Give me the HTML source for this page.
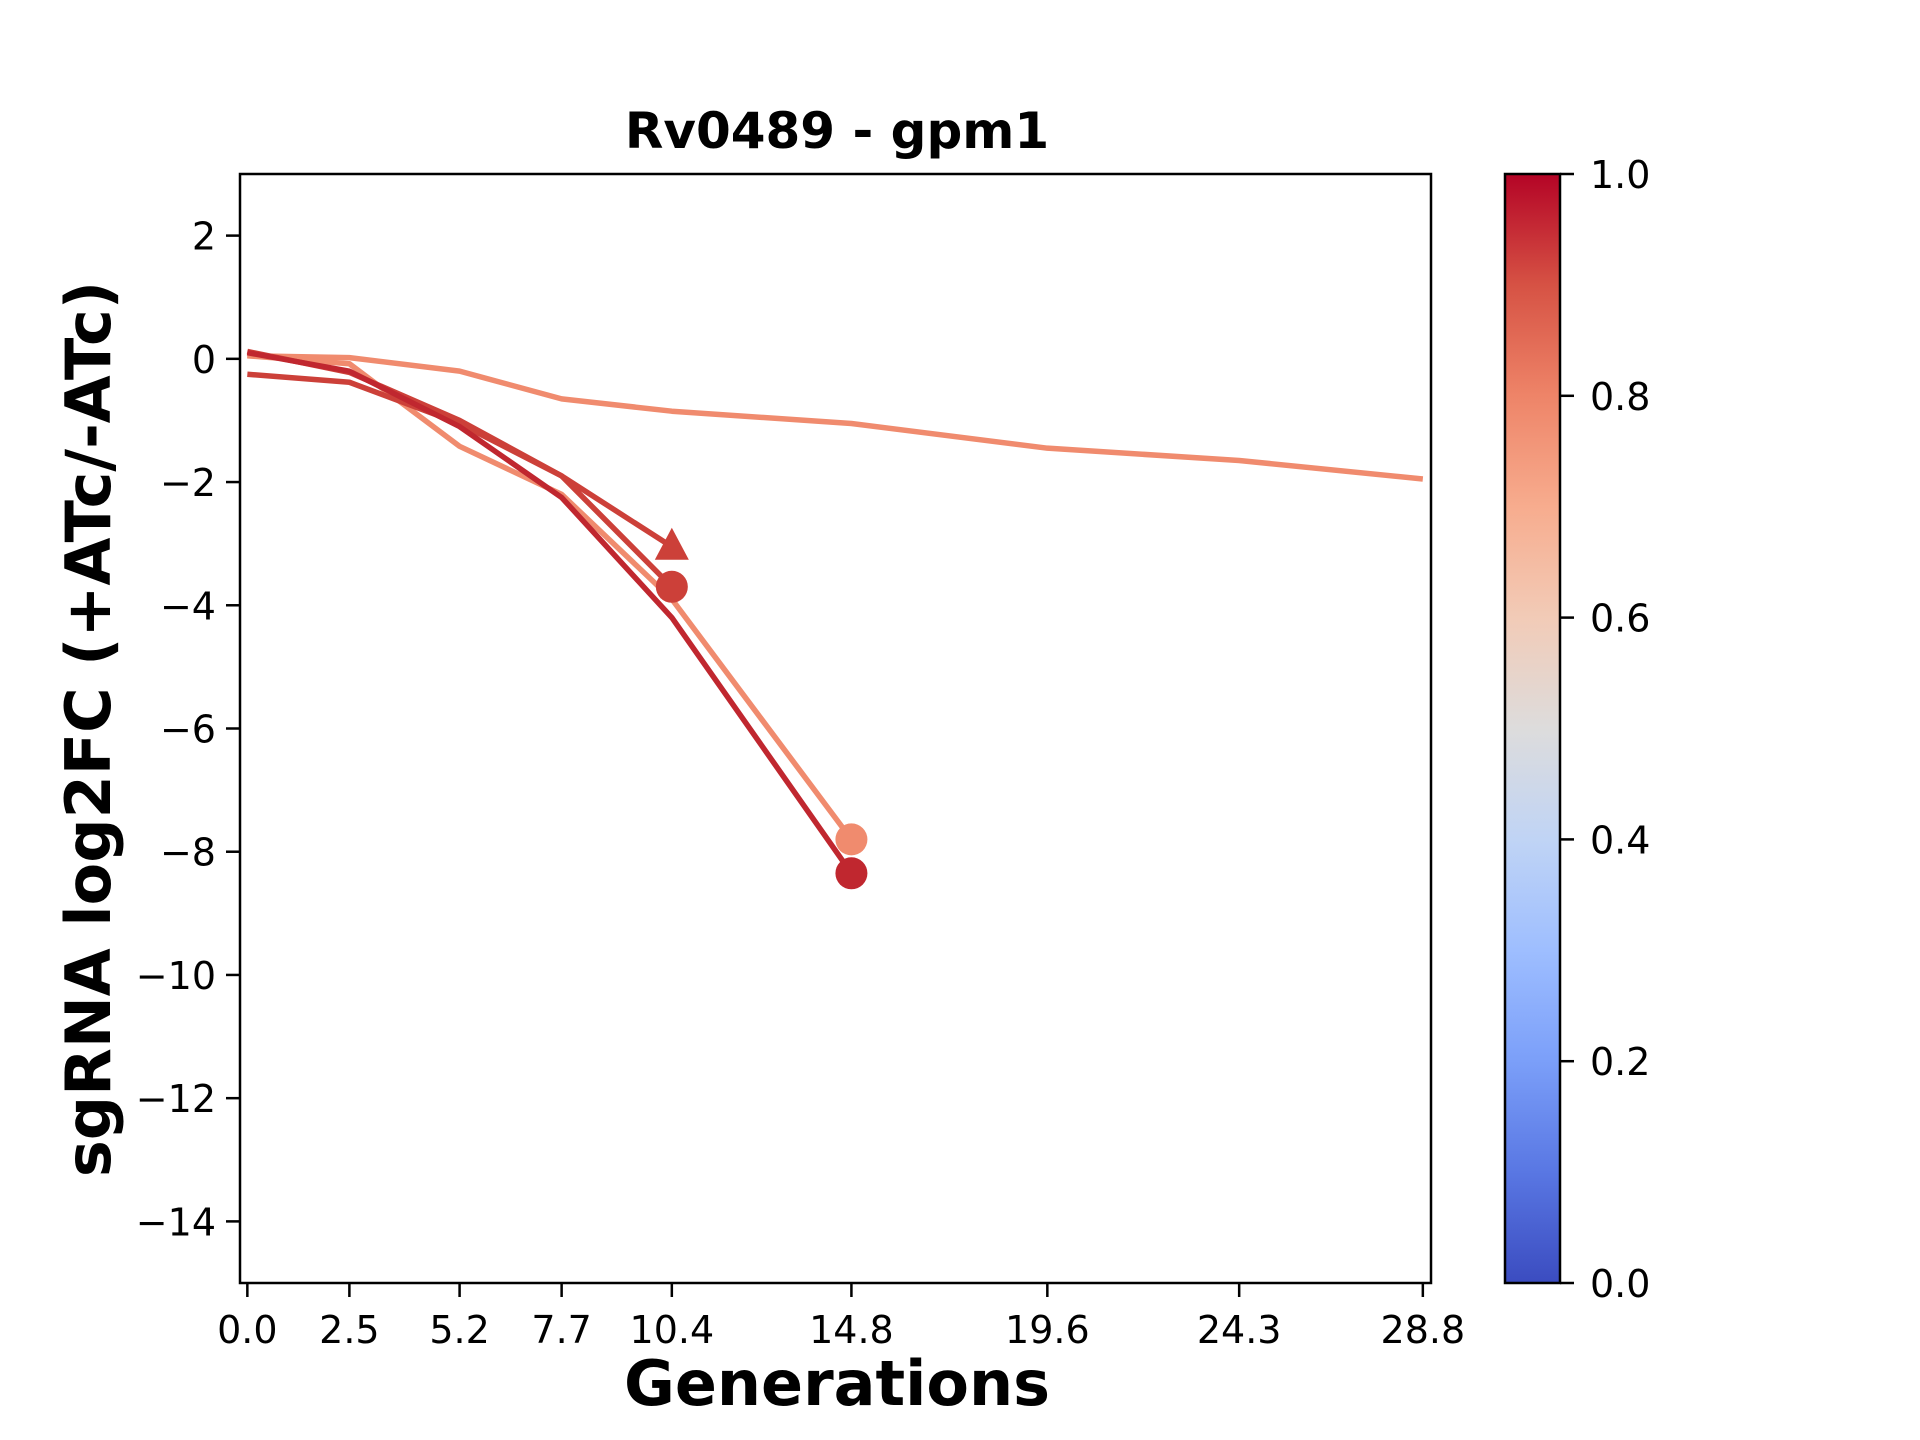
<!DOCTYPE html>
<html><head><meta charset="utf-8"><style>
html,body{margin:0;padding:0;background:#fff;}
svg{display:block;font-family:"DejaVu Sans","Liberation Sans",sans-serif;}
</style></head><body>
<svg id="chart" width="1920" height="1440" viewBox="0 0 1920 1440" xmlns="http://www.w3.org/2000/svg">
<defs>
<linearGradient id="cw" x1="0" y1="1" x2="0" y2="0">
<stop offset="0" stop-color="#3b4cc0"/><stop offset="0.1" stop-color="#5977e3"/><stop offset="0.2" stop-color="#7b9ff9"/><stop offset="0.3" stop-color="#9ebeff"/><stop offset="0.4" stop-color="#c0d4f5"/><stop offset="0.5" stop-color="#dddcdc"/><stop offset="0.6" stop-color="#f2cbb7"/><stop offset="0.7" stop-color="#f7ac8e"/><stop offset="0.8" stop-color="#ee8468"/><stop offset="0.9" stop-color="#d65244"/><stop offset="1" stop-color="#b40426"/>
</linearGradient>
</defs>
<rect x="0" y="0" width="1920" height="1440" fill="#fff"/>
<text x="837" y="148" text-anchor="middle" font-size="50" font-weight="bold">Rv0489 - gpm1</text>
<g id="plot"></g>
<rect x="240" y="174" width="1191" height="1109" fill="none" stroke="#000" stroke-width="2.5"/>
<text x="837" y="1405" text-anchor="middle" font-size="62" font-weight="bold">Generations</text>
<text transform="translate(110,729) rotate(-90)" text-anchor="middle" font-size="62" font-weight="bold">sgRNA log2FC (+ATc/-ATc)</text>
<rect x="1505" y="174" width="55" height="1109" fill="url(#cw)" stroke="#000" stroke-width="2.5"/>
<g id="cbticks"></g>
</svg>
<script>
const xTicks = [0.0, 2.5, 5.2, 7.7, 10.4, 14.8, 19.6, 24.3, 28.8];
const xTickLabels = ["0.0","2.5","5.2","7.7","10.4","14.8","19.6","24.3","28.8"];
const yTicks = [2, 0, -2, -4, -6, -8, -10, -12, -14];
const cbTicks = [0.0, 0.2, 0.4, 0.6, 0.8, 1.0];
const genLong = [0, 2.5, 5.2, 7.7, 10.4, 14.8, 19.6, 24.3, 28.8];
const valLong = [0.05, 0.02, -0.2, -0.65, -0.85, -1.05, -1.45, -1.65, -1.95];
const genB = [0, 2.5, 5.2, 7.7, 10.4, 14.8];
const valB = [0.05, -0.08, -1.42, -2.2, -3.9, -7.8];
const genC = [0, 2.5, 5.2, 7.7, 10.4, 14.8];
const valC = [0.1, -0.2, -1.1, -2.25, -4.2, -8.35];
const genD = [0, 2.5, 5.2, 7.7, 10.4];
const valD = [0.12, -0.22, -1.0, -1.9, -3.7];
const genE = [0, 2.5, 5.2, 7.7, 10.4];
const valE = [-0.25, -0.38, -1.05, -1.9, -3.05];

const NS = "http://www.w3.org/2000/svg";
const X0 = 240, X1 = 1431, Y0 = 174, Y1 = 1283;
const xmin = -0.18, xmax = 29.0, ymin = -15, ymax = 3;
function sx(v){ return X0 + (v - xmin) / (xmax - xmin) * (X1 - X0); }
function sy(v){ return Y1 - (v - ymin) / (ymax - ymin) * (Y1 - Y0); }
function mk(tag, attrs, parent){ const e = document.createElementNS(NS, tag); for (const k in attrs) e.setAttribute(k, attrs[k]); parent.appendChild(e); return e; }
const svg = document.getElementById('chart');
const plot = document.getElementById('plot');

xTicks.forEach((t, i) => {
  const l = mk('line', {x1: sx(t), x2: sx(t), y1: Y1, y2: Y1 + 14, stroke: '#000', 'stroke-width': 2.5}, svg);
  
  
  const tx = mk('text', {x: sx(t), y: Y1 + 60, 'text-anchor': 'middle', 'font-size': 38}, svg);
  tx.textContent = xTickLabels[i];
  
  
});
yTicks.forEach(t => {
  const l = mk('line', {x1: X0 - 14, x2: X0, y1: sy(t), y2: sy(t), stroke: '#000', 'stroke-width': 2.5}, svg);
  
  
  const tx = mk('text', {x: X0 - 24, y: sy(t) + 14, 'text-anchor': 'end', 'font-size': 38}, svg);
  tx.textContent = t < 0 ? '\u2212' + Math.abs(t) : String(t);
  
  
});
cbTicks.forEach(t => {
  const y = Y1 - t * (Y1 - Y0);
  const l = mk('line', {x1: 1560, x2: 1574, y1: y, y2: y, stroke: '#000', 'stroke-width': 2.5}, svg);
  
  
  const tx = mk('text', {x: 1590, y: y + 14, 'font-size': 38}, svg);
  tx.textContent = t.toFixed(1);
  
  
});

function series(gens, vals, color, name, marker){
  const pts = gens.map((g, i) => sx(g) + ',' + sy(vals[i])).join(' ');
  const pl = mk('polyline', {points: pts, fill: 'none', stroke: color, 'stroke-width': 5.5, 'stroke-linejoin': 'round'}, plot);
  
  
  if (marker) {
    const gx = sx(gens[gens.length - 1]), gy = sy(vals[vals.length - 1]);
    let m;
    if (marker === 'circle') m = mk('circle', {cx: gx, cy: gy, r: 16, fill: color}, plot);
    else m = mk('polygon', {points: (gx) + ',' + (gy - 19) + ' ' + (gx - 17) + ',' + (gy + 13) + ' ' + (gx + 17) + ',' + (gy + 13), fill: color}, plot);
    
    
  }
}
series(genLong, valLong, '#f08b6e', 'series-long', null);
series(genB, valB, '#f08b6e', 'series-b', 'circle');
series(genD, valD, '#cc4039', 'series-d', 'circle');
series(genE, valE, '#cc4039', 'series-e', 'triangle');
series(genC, valC, '#c0272f', 'series-c', 'circle');
</script>
</body></html>
